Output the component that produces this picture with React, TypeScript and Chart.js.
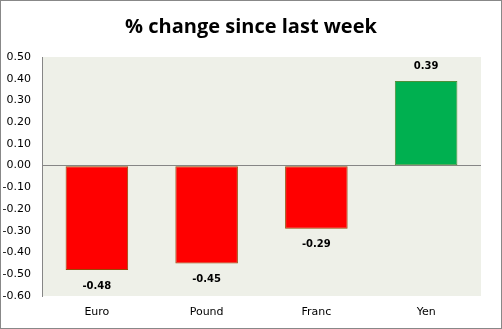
import React, { useEffect, useRef } from "react";
import { Chart, registerables } from "chart.js";
Chart.register(...registerables);

const categories = ["Euro", "Pound", "Franc", "Yen"];
const values = [-0.48, -0.45, -0.29, 0.39];
const titleText = "% change since last week";
const yMin = -0.6;
const yMax = 0.5;

const bgPlugin = {
  id: "bgPlugin",
  beforeDraw(chart: any) {
    const { ctx, chartArea } = chart;
    ctx.save();
    ctx.fillStyle = "#EEF0E8";
    ctx.fillRect(chartArea.left, chartArea.top, chartArea.right - chartArea.left, chartArea.bottom - chartArea.top);
    ctx.restore();
  },
  afterDraw(chart: any) {
    const { ctx } = chart;
    ctx.save();
    ctx.fillStyle = "#000";
    ctx.font = "bold 20px 'Open Sans', sans-serif";
    ctx.textAlign = "center";
    ctx.textBaseline = "middle";
    ctx.fillText(titleText, 250, 26);
    const meta = chart.getDatasetMeta(0);
    ctx.font = "bold 10px 'DejaVu Sans', sans-serif";
    meta.data.forEach((bar: any, i: number) => {
      const v = values[i];
      const y = v < 0 ? bar.y + 16 : bar.y - 14;
      ctx.fillText(v.toFixed(2), bar.x, y);
    });
    ctx.restore();
  },
};

export default function App() {
  const ref = useRef<HTMLCanvasElement>(null);
  useEffect(() => {
    document.body.style.margin = "0";
    const chart = new Chart(ref.current!, {
      type: "bar",
      data: {
        labels: categories,
        datasets: [
          {
            data: values,
            backgroundColor: values.map((v) => (v < 0 ? "#FF0000" : "#00B050")),
            borderColor: values.map((v) => (v < 0 ? "#984807" : "#4F8F3A")),
            borderWidth: 1,
            borderSkipped: false,
            barPercentage: 0.57,
            categoryPercentage: 1,
          },
        ],
      },
      plugins: [bgPlugin],
      options: {
        animation: false,
        responsive: false,
        maintainAspectRatio: false,
        layout: { padding: { top: 56, right: 20, left: 0, bottom: 0 } },
        plugins: { legend: { display: false }, title: { display: false }, tooltip: { enabled: false } },
        scales: {
          x: {
            grid: { display: false, drawTicks: false },
            border: { display: false },
            ticks: { padding: 10, color: "#000", font: { family: "'DejaVu Sans', sans-serif", size: 11 } },
            afterFit: (s: any) => { s.height = 32; },
          },
          y: {
            min: yMin,
            max: yMax,
            grid: {
              drawTicks: false,
              color: (c: any) => (c.tick && Math.abs(c.tick.value) < 1e-9 ? "#868686" : "rgba(0,0,0,0)"),
            },
            border: { display: true, color: "#868686" },
            ticks: {
              stepSize: 0.1,
              padding: 11,
              color: "#000",
              font: { family: "'DejaVu Sans', sans-serif", size: 11 },
              callback: (v: any) => Number(v).toFixed(2),
            },
            afterFit: (s: any) => { s.width = 41; },
          },
        },
      },
    });
    return () => chart.destroy();
  }, []);
  return (
    <div style={{ position: "fixed", left: 0, top: 0, width: 502, height: 329, boxSizing: "border-box", border: "1px solid #888", background: "#fff" }}>
      <canvas ref={ref} width={500} height={327} style={{ display: "block" }} />
    </div>
  );
}
